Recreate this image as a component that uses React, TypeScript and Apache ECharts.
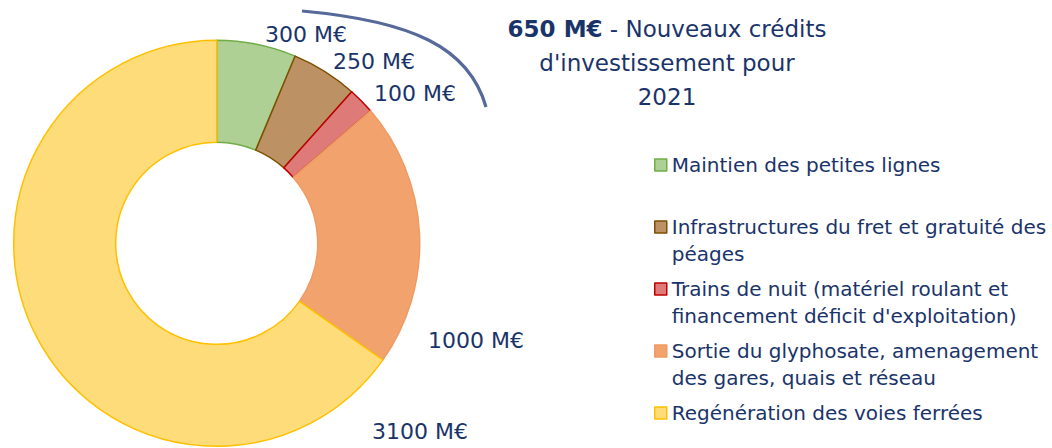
import React, { useEffect, useRef } from "react";
import * as echarts from "echarts";

const categories = [
  "Maintien des petites lignes",
  "Infrastructures du fret et gratuité des péages",
  "Trains de nuit (matériel roulant et financement déficit d'exploitation)",
  "Sortie du glyphosate, amenagement des gares, quais et réseau",
  "Regénération des voies ferrées",
];
const values = [300, 250, 100, 1000, 3100];
const legendLines = [
  "Maintien des petites lignes\n ",
  "Infrastructures du fret et gratuité des\npéages",
  "Trains de nuit (matériel roulant et\nfinancement déficit d'exploitation)",
  "Sortie du glyphosate, amenagement\ndes gares, quais et réseau",
  "Regénération des voies ferrées\n ",
];
const fills = ["#AFD095", "#BC9163", "#DE7A78", "#F2A36D", "#FEDC7A"];
const borders = ["#70AD47", "#7F4F00", "#C00000", "#F09A62", "#FFC000"];
const labelPos = [
  [265, 34.5],
  [333, 61],
  [374, 93.5],
  [428, 340],
  [372, 431],
];
const titleBold = "650 M€";
const titleRest = " - Nouveaux crédits";
const titleLine2 = "d'investissement pour";
const titleLine3 = "2021";

const FONT = "DejaVu Sans";
const NAVY = "#1A346A";

export default function App() {
  const ref = useRef<HTMLDivElement>(null);
  useEffect(() => {
    if (!ref.current) return;
    const chart = echarts.init(ref.current, undefined, { renderer: "svg" });
    const nameToLegend: Record<string, string> = {};
    categories.forEach((c, i) => (nameToLegend[c] = "\n" + legendLines[i]));
    chart.setOption({
      animation: false,
      backgroundColor: "#ffffff",
      legend: {
        orient: "vertical",
        left: 654,
        top: 124.5,
        height: 360,
        padding: 0,
        itemWidth: 12,
        itemHeight: 12,
        itemGap: -19,
        icon: "rect",
        selectedMode: false,
        data: categories,
        formatter: (name: string) => nameToLegend[name],
        itemStyle: { borderWidth: 1.5 },
        textStyle: {
          fontFamily: FONT,
          fontSize: 20,
          lineHeight: 27,
          color: NAVY,
        },
      },
      graphic: [
        {
          type: "text",
          x: 667,
          y: 12,
          style: {
            text: `{b|${titleBold}}{r|${titleRest}}\n{r|${titleLine2}}\n{r|${titleLine3}}`,
            align: "center",
            verticalAlign: "top",
            rich: {
              b: { fontFamily: FONT, fontSize: 23, fontWeight: "bold", fill: NAVY, lineHeight: 34 },
              r: { fontFamily: FONT, fontSize: 23, fill: NAVY, lineHeight: 34 },
            },
          },
        },
        {
          type: "bezierCurve",
          shape: { x1: 302, y1: 11, cpx1: 412, cpy1: 21, cpx2: 469, cpy2: 47, x2: 486, y2: 107 },
          style: { stroke: "#56699A", lineWidth: 3.2, fill: null },
        },
      ],
      series: [
        {
          type: "pie",
          center: [216.7, 243.3],
          radius: [101, 203],
          startAngle: 90,
          clockwise: true,
          silent: true,
          avoidLabelOverlap: false,
          data: categories.map((name, i) => ({
            name,
            value: values[i],
            itemStyle: { color: fills[i], borderColor: borders[i], borderWidth: 1.5 },
          })),
          label: {
            show: true,
            position: "outside",
            formatter: "{c} M€",
            fontFamily: FONT,
            fontSize: 22,
            color: NAVY,
            width: 140,
            overflow: "none",
          },
          labelLine: { show: false },
          labelLayout: (params: any) => {
            const p = labelPos[params.dataIndex];
            return { x: p[0], y: p[1], align: "left", verticalAlign: "middle" };
          },
        },
      ],
    });
    return () => chart.dispose();
  }, []);
  return (
    <div
      ref={ref}
      style={{ position: "fixed", left: 0, top: 0, width: 1052, height: 448 }}
    />
  );
}
